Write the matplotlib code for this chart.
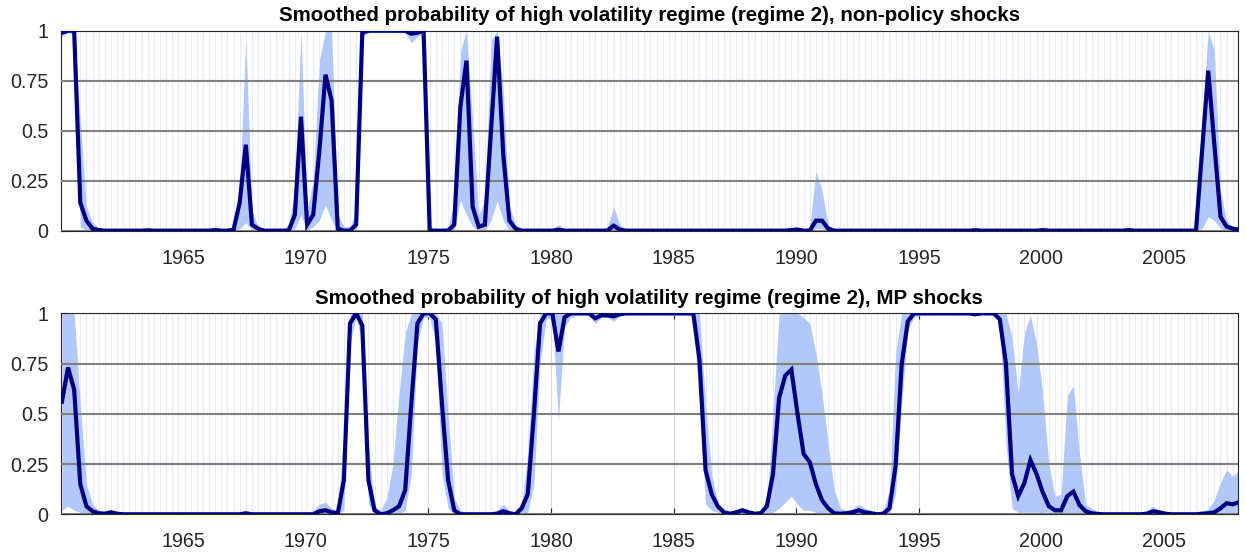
import numpy as np
import matplotlib
matplotlib.use('Agg')
import matplotlib.pyplot as plt

plt.rcParams['font.family'] = ['Liberation Sans', 'DejaVu Sans']

# quarterly data 1960Q1 .. 2008Q1, one row per year (Q1..Q4), last row = 2008Q1
start_year = 1960
end_year = 2008
date_shift = 0.05   # points sit slightly right of the year grid in the original

# ---- non-policy shocks: smoothed probability, upper and lower band ----
np_mean = [
    [0.99, 1.00, 1.00, 0.14], [0.05, 0.01, 0.003, 0.0], [0.0, 0.0, 0.0, 0.0], [0.0, 0.0, 0.002, 0.0],
    [0.0, 0.0, 0.0, 0.0], [0.0, 0.0, 0.0, 0.0], [0.0, 0.003, 0.0, 0.0], [0.005, 0.14, 0.43, 0.03],
    [0.01, 0.0, 0.0, 0.0], [0.0, 0.0, 0.08, 0.57], [0.03, 0.08, 0.40, 0.78], [0.65, 0.01, 0.0, 0.0],
    [0.03, 0.99, 1.0, 1.0], [1.0, 1.0, 1.0, 1.0], [1.0, 0.985, 0.99, 1.0], [0.0, 0.0, 0.0, 0.0],
    [0.03, 0.62, 0.85, 0.12], [0.02, 0.03, 0.50, 0.97], [0.38, 0.05, 0.01, 0.0], [0.0, 0.0, 0.0, 0.0],
    [0.0, 0.005, 0.0, 0.0], [0.0, 0.0, 0.0, 0.0], [0.0, 0.0, 0.025, 0.005], [0.0, 0.0, 0.0, 0.0],
    [0.0, 0.0, 0.0, 0.0], [0.0, 0.0, 0.0, 0.0], [0.0, 0.0, 0.0, 0.0], [0.0, 0.0, 0.0, 0.0],
    [0.0, 0.0, 0.0, 0.0], [0.0, 0.0, 0.0, 0.003], [0.005, 0.0, 0.0, 0.05], [0.05, 0.01, 0.0, 0.0],
    [0.0, 0.0, 0.0, 0.0], [0.0, 0.0, 0.0, 0.0], [0.0, 0.0, 0.0, 0.0], [0.0, 0.0, 0.0, 0.0],
    [0.0, 0.0, 0.0, 0.0], [0.0, 0.002, 0.0, 0.0], [0.0, 0.0, 0.0, 0.0], [0.0, 0.0, 0.0, 0.0],
    [0.003, 0.0, 0.0, 0.0], [0.0, 0.0, 0.0, 0.0], [0.0, 0.0, 0.0, 0.0], [0.0, 0.0, 0.003, 0.0],
    [0.0, 0.0, 0.0, 0.0], [0.0, 0.0, 0.0, 0.0], [0.0, 0.0, 0.40, 0.80], [0.43, 0.07, 0.02, 0.01],
    [0.005],
]
np_hi = [
    [1.0, 1.0, 1.0, 0.55], [0.12, 0.04, 0.015, 0.01], [0.01, 0.01, 0.01, 0.01], [0.01, 0.01, 0.01, 0.01],
    [0.01, 0.01, 0.01, 0.01], [0.01, 0.01, 0.01, 0.01], [0.01, 0.015, 0.01, 0.01], [0.02, 0.20, 0.97, 0.10],
    [0.02, 0.01, 0.01, 0.01], [0.01, 0.03, 0.20, 1.0], [0.10, 0.25, 0.85, 1.0], [1.0, 0.08, 0.02, 0.02],
    [0.10, 1.0, 1.0, 1.0], [1.0, 1.0, 1.0, 1.0], [1.0, 1.0, 1.0, 1.0], [0.02, 0.01, 0.01, 0.02],
    [0.15, 0.90, 1.0, 0.55], [0.08, 0.15, 0.95, 1.0], [0.70, 0.12, 0.03, 0.01], [0.01, 0.01, 0.01, 0.01],
    [0.01, 0.03, 0.01, 0.01], [0.01, 0.01, 0.01, 0.01], [0.01, 0.02, 0.12, 0.03], [0.01, 0.01, 0.01, 0.01],
    [0.01, 0.01, 0.01, 0.01], [0.01, 0.01, 0.01, 0.01], [0.01, 0.01, 0.01, 0.01], [0.01, 0.01, 0.01, 0.01],
    [0.01, 0.01, 0.01, 0.01], [0.01, 0.01, 0.01, 0.015], [0.02, 0.01, 0.02, 0.30], [0.20, 0.03, 0.01, 0.01],
    [0.01, 0.01, 0.01, 0.01], [0.01, 0.01, 0.01, 0.01], [0.01, 0.01, 0.01, 0.01], [0.01, 0.01, 0.01, 0.01],
    [0.01, 0.01, 0.01, 0.01], [0.01, 0.015, 0.01, 0.01], [0.01, 0.01, 0.01, 0.01], [0.01, 0.01, 0.01, 0.01],
    [0.015, 0.01, 0.01, 0.01], [0.01, 0.01, 0.01, 0.01], [0.01, 0.01, 0.01, 0.01], [0.01, 0.01, 0.015, 0.01],
    [0.01, 0.01, 0.01, 0.01], [0.01, 0.01, 0.01, 0.01], [0.01, 0.02, 0.55, 1.0], [0.90, 0.20, 0.05, 0.02],
    [0.01],
]
np_lo = [
    [0.97, 0.99, 0.98, 0.02], [0.0, 0.0, 0.0, 0.0], [0.0, 0.0, 0.0, 0.0], [0.0, 0.0, 0.0, 0.0],
    [0.0, 0.0, 0.0, 0.0], [0.0, 0.0, 0.0, 0.0], [0.0, 0.0, 0.0, 0.0], [0.0, 0.01, 0.04, 0.0],
    [0.0, 0.0, 0.0, 0.0], [0.0, 0.0, 0.01, 0.08], [0.0, 0.02, 0.05, 0.13], [0.05, 0.0, 0.0, 0.0],
    [0.0, 0.97, 0.99, 0.99], [0.99, 0.99, 0.99, 0.99], [0.99, 0.94, 0.97, 0.99], [0.0, 0.0, 0.0, 0.0],
    [0.0, 0.15, 0.08, 0.02], [0.0, 0.0, 0.05, 0.15], [0.05, 0.0, 0.0, 0.0], [0.0, 0.0, 0.0, 0.0],
    [0.0, 0.0, 0.0, 0.0], [0.0, 0.0, 0.0, 0.0], [0.0, 0.0, 0.0, 0.0], [0.0, 0.0, 0.0, 0.0],
    [0.0, 0.0, 0.0, 0.0], [0.0, 0.0, 0.0, 0.0], [0.0, 0.0, 0.0, 0.0], [0.0, 0.0, 0.0, 0.0],
    [0.0, 0.0, 0.0, 0.0], [0.0, 0.0, 0.0, 0.0], [0.0, 0.0, 0.0, 0.01], [0.01, 0.0, 0.0, 0.0],
    [0.0, 0.0, 0.0, 0.0], [0.0, 0.0, 0.0, 0.0], [0.0, 0.0, 0.0, 0.0], [0.0, 0.0, 0.0, 0.0],
    [0.0, 0.0, 0.0, 0.0], [0.0, 0.0, 0.0, 0.0], [0.0, 0.0, 0.0, 0.0], [0.0, 0.0, 0.0, 0.0],
    [0.0, 0.0, 0.0, 0.0], [0.0, 0.0, 0.0, 0.0], [0.0, 0.0, 0.0, 0.0], [0.0, 0.0, 0.0, 0.0],
    [0.0, 0.0, 0.0, 0.0], [0.0, 0.0, 0.0, 0.0], [0.0, 0.0, 0.01, 0.07], [0.05, 0.01, 0.0, 0.0],
    [0.0],
]

# ---- MP shocks ----
mp_mean = [
    [0.56, 0.73, 0.62, 0.15], [0.04, 0.015, 0.005, 0.003], [0.01, 0.003, 0.0, 0.0], [0.0, 0.0, 0.0, 0.0],
    [0.0, 0.0, 0.0, 0.0], [0.0, 0.0, 0.0, 0.0], [0.0, 0.0, 0.0, 0.0], [0.0, 0.0, 0.005, 0.0],
    [0.0, 0.0, 0.0, 0.0], [0.0, 0.0, 0.0, 0.0], [0.0, 0.0, 0.015, 0.02], [0.01, 0.005, 0.17, 0.95],
    [1.0, 0.94, 0.17, 0.02], [0.0, 0.005, 0.02, 0.04], [0.12, 0.55, 0.95, 1.0], [1.0, 0.97, 0.55, 0.17],
    [0.02, 0.0, 0.0, 0.0], [0.0, 0.0, 0.0, 0.003], [0.015, 0.005, 0.0, 0.03], [0.10, 0.50, 0.95, 1.0],
    [1.0, 0.81, 0.98, 1.0], [1.0, 1.0, 1.0, 0.975], [0.99, 0.99, 0.985, 0.995], [1.0, 1.0, 1.0, 1.0],
    [1.0, 1.0, 1.0, 1.0], [1.0, 1.0, 1.0, 1.0], [0.77, 0.22, 0.10, 0.04], [0.01, 0.003, 0.01, 0.02],
    [0.01, 0.003, 0.005, 0.04], [0.20, 0.58, 0.69, 0.72], [0.50, 0.30, 0.26, 0.15], [0.07, 0.03, 0.005, 0.003],
    [0.005, 0.01, 0.02, 0.01], [0.005, 0.0, 0.003, 0.03], [0.24, 0.75, 0.96, 1.0], [1.0, 1.0, 1.0, 1.0],
    [1.0, 1.0, 1.0, 1.0], [1.0, 0.995, 1.0, 1.0], [1.0, 0.97, 0.75, 0.20], [0.09, 0.155, 0.27, 0.20],
    [0.11, 0.04, 0.02, 0.02], [0.09, 0.113, 0.046, 0.015], [0.005, 0.002, 0.0, 0.0], [0.0, 0.0, 0.0, 0.0],
    [0.0, 0.003, 0.015, 0.01], [0.003, 0.0, 0.0, 0.0], [0.0, 0.0, 0.003, 0.005], [0.01, 0.03, 0.055, 0.05],
    [0.06],
]
mp_hi = [
    [1.0, 1.0, 1.0, 0.55], [0.15, 0.05, 0.02, 0.015], [0.02, 0.01, 0.01, 0.01], [0.01, 0.01, 0.01, 0.01],
    [0.01, 0.01, 0.01, 0.01], [0.01, 0.01, 0.01, 0.01], [0.01, 0.01, 0.01, 0.01], [0.01, 0.01, 0.015, 0.01],
    [0.01, 0.01, 0.01, 0.01], [0.01, 0.01, 0.01, 0.01], [0.01, 0.02, 0.05, 0.06], [0.03, 0.02, 0.40, 1.0],
    [1.0, 1.0, 0.35, 0.04], [0.02, 0.08, 0.25, 0.60], [0.90, 1.0, 1.0, 1.0], [1.0, 1.0, 0.95, 0.50],
    [0.08, 0.02, 0.01, 0.01], [0.01, 0.01, 0.01, 0.02], [0.05, 0.02, 0.01, 0.05], [0.30, 0.80, 1.0, 1.0],
    [1.0, 1.0, 1.0, 1.0], [1.0, 1.0, 1.0, 1.0], [1.0, 1.0, 1.0, 1.0], [1.0, 1.0, 1.0, 1.0],
    [1.0, 1.0, 1.0, 1.0], [1.0, 1.0, 1.0, 1.0], [1.0, 0.55, 0.20, 0.05], [0.02, 0.01, 0.02, 0.03],
    [0.01, 0.01, 0.02, 0.05], [0.50, 1.0, 1.0, 1.0], [1.0, 0.98, 0.95, 0.80], [0.60, 0.35, 0.12, 0.03],
    [0.02, 0.03, 0.05, 0.03], [0.02, 0.01, 0.02, 0.12], [0.80, 1.0, 1.0, 1.0], [1.0, 1.0, 1.0, 1.0],
    [1.0, 1.0, 1.0, 1.0], [1.0, 1.0, 1.0, 1.0], [1.0, 1.0, 1.0, 0.88], [0.60, 0.90, 0.99, 0.85],
    [0.60, 0.25, 0.09, 0.10], [0.59, 0.64, 0.30, 0.05], [0.03, 0.01, 0.01, 0.01], [0.01, 0.01, 0.01, 0.01],
    [0.01, 0.02, 0.04, 0.02], [0.01, 0.01, 0.01, 0.01], [0.01, 0.01, 0.01, 0.03], [0.07, 0.16, 0.22, 0.19],
    [0.22],
]
mp_lo = [
    [0.02, 0.04, 0.02, 0.01], [0.0, 0.0, 0.0, 0.0], [0.0, 0.0, 0.0, 0.0], [0.0, 0.0, 0.0, 0.0],
    [0.0, 0.0, 0.0, 0.0], [0.0, 0.0, 0.0, 0.0], [0.0, 0.0, 0.0, 0.0], [0.0, 0.0, 0.0, 0.0],
    [0.0, 0.0, 0.0, 0.0], [0.0, 0.0, 0.0, 0.0], [0.0, 0.0, 0.0, 0.0], [0.0, 0.0, 0.02, 0.85],
    [0.98, 0.85, 0.05, 0.0], [0.0, 0.0, 0.0, 0.0], [0.02, 0.20, 0.85, 0.98], [0.98, 0.85, 0.20, 0.03],
    [0.0, 0.0, 0.0, 0.0], [0.0, 0.0, 0.0, 0.0], [0.0, 0.0, 0.0, 0.0], [0.01, 0.15, 0.75, 0.97],
    [0.98, 0.47, 0.93, 0.98], [0.99, 0.99, 0.99, 0.95], [0.98, 0.98, 0.96, 0.99], [0.99, 0.99, 0.99, 0.99],
    [0.99, 0.99, 0.99, 0.99], [0.99, 0.99, 0.99, 0.98], [0.55, 0.05, 0.02, 0.01], [0.0, 0.0, 0.0, 0.0],
    [0.0, 0.0, 0.0, 0.0], [0.01, 0.03, 0.06, 0.09], [0.05, 0.02, 0.02, 0.01], [0.0, 0.0, 0.0, 0.0],
    [0.0, 0.0, 0.0, 0.0], [0.0, 0.0, 0.0, 0.0], [0.10, 0.55, 0.92, 0.98], [0.99, 0.99, 0.99, 0.99],
    [0.99, 0.99, 0.99, 0.99], [0.99, 0.99, 0.99, 0.99], [0.99, 0.95, 0.35, 0.03], [0.01, 0.01, 0.01, 0.01],
    [0.01, 0.01, 0.0, 0.0], [0.0, 0.0, 0.0, 0.0], [0.0, 0.0, 0.0, 0.0], [0.0, 0.0, 0.0, 0.0],
    [0.0, 0.0, 0.0, 0.0], [0.0, 0.0, 0.0, 0.0], [0.0, 0.0, 0.0, 0.0], [0.0, 0.0, 0.0, 0.0],
    [0.0],
]

titles = ['Smoothed probability of high volatility regime (regime 2), non-policy shocks',
          'Smoothed probability of high volatility regime (regime 2), MP shocks']
xticks = [1965, 1970, 1975, 1980, 1985, 1990, 1995, 2000, 2005]
yticks = [0, 0.25, 0.5, 0.75, 1]
ytick_labels = ['0', '0.25', '0.5', '0.75', '1']


def flat(rows):
    return np.array([v for r in rows for v in r])


t = start_year + date_shift + np.arange(len(flat(np_mean))) / 4.0

line_col = '#000080'
band_col = '#b3c8fa'
stripe_col = '#e4ebfc'
grid_col = '#808080'
txt_col = '#262626'

fig = plt.figure(figsize=(12.46, 5.52), dpi=100)
ax_top = fig.add_axes([0.0487, 0.5821, 0.9446, 0.3623])
ax_bot = fig.add_axes([0.0487, 0.0683, 0.9446, 0.3641])

for ax, mean, hi, lo, title in [(ax_top, np_mean, np_hi, np_lo, titles[0]),
                                (ax_bot, mp_mean, mp_hi, mp_lo, titles[1])]:
    mean, hi, lo = flat(mean), flat(hi), flat(lo)
    ax.set_axisbelow(True)
    ax.grid(axis='x', color='#dadada', lw=0.8)
    # area above the band: white with faint stripes
    ax.fill_between(t, hi, 1, color='white', lw=0, zorder=1)
    ax.vlines(t, hi, 1, color=stripe_col, lw=0.8, zorder=1.5)
    # confidence band
    ax.fill_between(t, lo, hi, color=band_col, lw=0, zorder=2)
    for y in yticks[:-1]:
        ax.axhline(y, color=grid_col, lw=1.5, zorder=3)
    ax.plot(t, mean, color=line_col, lw=3, zorder=4, solid_joinstyle='miter')

    ax.set_xlim(start_year, end_year)
    ax.set_ylim(0, 1)
    ax.set_xticks(xticks)
    ax.set_yticks(yticks)
    ax.set_yticklabels(ytick_labels)
    ax.tick_params(direction='in', top=True, right=True, length=4, width=0.8,
                   color=txt_col, labelcolor=txt_col, labelsize=14.2)
    ax.tick_params(axis='y', pad=9)
    ax.tick_params(axis='x', pad=13)
    for s in ax.spines.values():
        s.set_color(txt_col)
        s.set_linewidth(0.8)
    ax.set_title(title, fontsize=14.8, fontweight='bold', pad=7)

fig.savefig('out.png', dpi=100)
